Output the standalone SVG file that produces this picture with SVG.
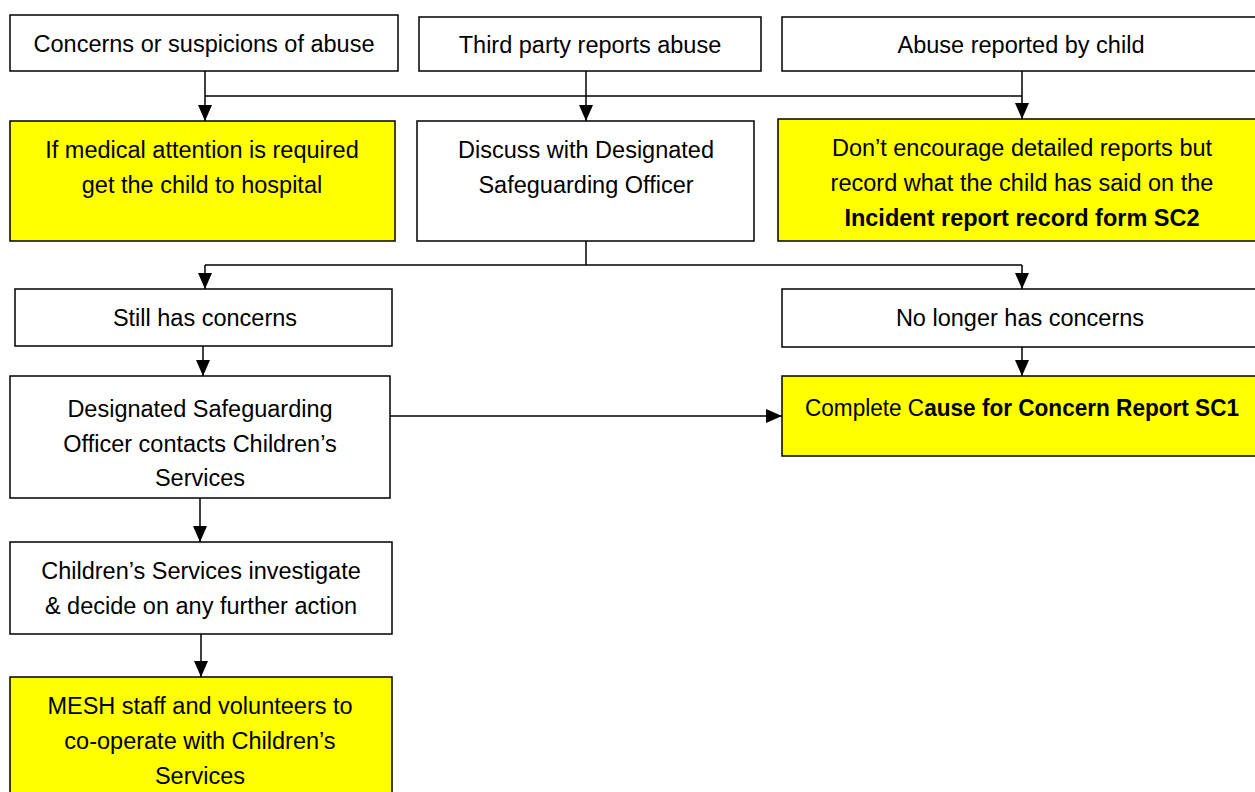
<svg xmlns="http://www.w3.org/2000/svg" width="1255" height="792" viewBox="0 0 1255 792">
<style>
.box{fill:#fff;stroke:#000;stroke-width:1.5}
.hl{fill:#ffff00;stroke:#000;stroke-width:1.5}
text{font-family:"Liberation Sans",Arial,sans-serif;font-size:23.5px;fill:#000;text-anchor:middle}
.b{font-weight:bold}
.c{fill:none;stroke:#000;stroke-width:1.5}
</style>
<defs>
<marker id="ah" markerUnits="userSpaceOnUse" markerWidth="16" markerHeight="14" viewBox="0 0 16 14" refX="16" refY="7" orient="auto">
<path d="M0,0 L16,7 L0,14 z" fill="#000"/>
</marker>
</defs>
<rect width="1255" height="792" fill="#fff"/>
<g id="connectors">
<path class="c" d="M205,71 V121" marker-end="url(#ah)"/>
<path class="c" d="M205,96 H1022"/>
<path class="c" d="M586,71 V121" marker-end="url(#ah)"/>
<path class="c" d="M1022,71 V119" marker-end="url(#ah)"/>
<path class="c" d="M586,241 V265"/>
<path class="c" d="M205,265 H1022"/>
<path class="c" d="M205,265 V289" marker-end="url(#ah)"/>
<path class="c" d="M1022,265 V289" marker-end="url(#ah)"/>
<path class="c" d="M203,346 V376" marker-end="url(#ah)"/>
<path class="c" d="M1022,347 V376" marker-end="url(#ah)"/>
<path class="c" d="M390,416 H782" marker-end="url(#ah)"/>
<path class="c" d="M200,498 V542" marker-end="url(#ah)"/>
<path class="c" d="M201,634 V677" marker-end="url(#ah)"/>
</g>
<g id="n-concerns">
<rect class="box" x="10" y="15" width="388" height="56"/>
<text x="204" y="52">Concerns or suspicions of abuse</text>
</g>
<g id="n-third">
<rect class="box" x="419" y="17" width="342" height="54"/>
<text x="590" y="53">Third party reports abuse</text>
</g>
<g id="n-child">
<rect class="box" x="782" y="17" width="480" height="54"/>
<text x="1021" y="53">Abuse reported by child</text>
</g>
<g id="n-medical">
<rect class="hl" x="10" y="121" width="385" height="120"/>
<text x="202" y="158">If medical attention is required</text>
<text x="202" y="193">get the child to hospital</text>
</g>
<g id="n-discuss">
<rect class="box" x="417" y="121" width="337" height="120"/>
<text x="586" y="158">Discuss with Designated</text>
<text x="586" y="193">Safeguarding Officer</text>
</g>
<g id="n-record">
<rect class="hl" x="778" y="119" width="484" height="122"/>
<text x="1022" y="156">Don’t encourage detailed reports but</text>
<text x="1022" y="191">record what the child has said on the</text>
<text x="1022" y="226" class="b">Incident report record form SC2</text>
</g>
<g id="n-still">
<rect class="box" x="15" y="289" width="377" height="57"/>
<text x="205" y="326">Still has concerns</text>
</g>
<g id="n-nolonger">
<rect class="box" x="782" y="289" width="480" height="58"/>
<text x="1020" y="326">No longer has concerns</text>
</g>
<g id="n-dso">
<rect class="box" x="10" y="376" width="380" height="122"/>
<text x="200" y="417">Designated Safeguarding</text>
<text x="200" y="452">Officer contacts Children’s</text>
<text x="200" y="486">Services</text>
</g>
<g id="n-sc1">
<rect class="hl" x="782" y="376" width="480" height="80"/>
<text x="1022" y="416" textLength="434" lengthAdjust="spacingAndGlyphs">Complete C<tspan class="b">ause for Concern Report SC1</tspan></text>
</g>
<g id="n-investigate">
<rect class="box" x="10" y="542" width="382" height="92"/>
<text x="201" y="579">Children’s Services investigate</text>
<text x="201" y="614">&amp; decide on any further action</text>
</g>
<g id="n-mesh">
<rect class="hl" x="10" y="677" width="382" height="130"/>
<text x="200" y="714">MESH staff and volunteers to</text>
<text x="200" y="749">co-operate with Children’s</text>
<text x="200" y="784">Services</text>
</g>
</svg>
